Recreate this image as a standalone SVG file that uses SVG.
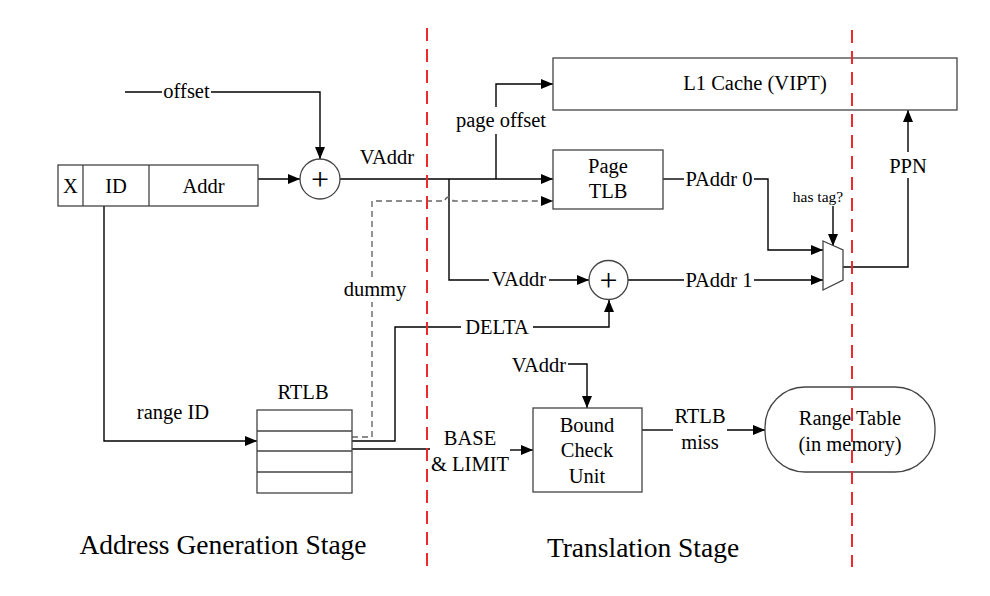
<svg xmlns="http://www.w3.org/2000/svg" width="990" height="596" viewBox="0 0 990 596">
<style>
.t{font-family:"Liberation Serif","Times New Roman",serif;font-size:20.5px;fill:#000;text-anchor:middle}
.s{font-size:15.5px}
.big{font-size:27.5px}
.plus{font-size:32px}
.box{fill:#fff;stroke:#444;stroke-width:1.3}
.ln{fill:none;stroke:#000;stroke-width:1.4}
.dash{fill:none;stroke:#666;stroke-width:1.4;stroke-dasharray:6 4}
.red{fill:none;stroke:#ee2a2a;stroke-width:2;stroke-dasharray:13 8}
</style>
<defs>
<marker id="arr" viewBox="0 0 12 10" refX="12" refY="5" markerWidth="12" markerHeight="10" markerUnits="userSpaceOnUse" orient="auto"><path d="M0,0 L12,5 L0,10 z" fill="#000"/></marker>
</defs>
<rect width="990" height="596" fill="#fff"/>

<g id="connectors">
  <path class="ln" d="M125,92 H162"/>
  <path class="ln" d="M211,92 H320 V159" marker-end="url(#arr)"/>
  <path class="ln" d="M258,179 H300" marker-end="url(#arr)"/>
  <path class="ln" d="M340,179 H553" marker-end="url(#arr)"/>
  <path class="ln" d="M496,179 V134"/>
  <path class="ln" d="M496,107 V84 H553" marker-end="url(#arr)"/>
  <path class="ln" d="M449,179 V280 H489"/>
  <path class="ln" d="M549,280 H589" marker-end="url(#arr)"/>
  <path class="ln" d="M663,179 H684"/>
  <path class="ln" d="M754,179 H768 V250 H823" marker-end="url(#arr)"/>
  <path class="ln" d="M628,280 H684"/>
  <path class="ln" d="M754,280 H823" marker-end="url(#arr)"/>
  <path class="ln" d="M833,206 V246" marker-end="url(#arr)"/>
  <path class="ln" d="M843,267 H908 V178"/>
  <path class="ln" d="M908,152 V110" marker-end="url(#arr)"/>
  <path class="ln" d="M104,206 V441 H257" marker-end="url(#arr)"/>
  <path class="ln" d="M352,441 H395 V327 H461"/>
  <path class="ln" d="M533,327 H609 V300" marker-end="url(#arr)"/>
  <path class="dash" d="M352,437 H372 V302"/>
  <path class="dash" d="M372,277 V201 H445 A4,4 0 0 1 453,201 H553" marker-end="url(#arr)"/>
  <path class="ln" d="M352,449 H430"/>
  <path class="ln" d="M510,450 H533" marker-end="url(#arr)"/>
  <path class="ln" d="M568,364 H587 V408" marker-end="url(#arr)"/>
  <path class="ln" d="M642,430 H673"/>
  <path class="ln" d="M727,430 H765" marker-end="url(#arr)"/>
</g>

<g id="addr-reg">
  <rect class="box" x="58" y="165" width="200" height="41"/>
  <path class="box" d="M83,165 V206 M149,165 V206"/>
  <text class="t" x="70.5" y="193">X</text>
  <text class="t" x="116" y="193">ID</text>
  <text class="t" x="203.5" y="193">Addr</text>
</g>

<g id="adder1">
  <circle class="box" cx="320" cy="179" r="20"/>
  <text class="t plus" x="320" y="190">+</text>
</g>

<g id="adder2">
  <circle class="box" cx="608.5" cy="280" r="19.5"/>
  <text class="t plus" x="608.5" y="291">+</text>
</g>

<g id="l1cache">
  <rect class="box" x="553" y="58" width="404" height="52"/>
  <text class="t" x="755" y="90">L1 Cache (VIPT)</text>
</g>

<g id="pagetlb">
  <rect class="box" x="553" y="150" width="110" height="59"/>
  <text class="t" x="608" y="173">Page</text>
  <text class="t" x="608" y="198">TLB</text>
</g>

<g id="mux">
  <polygon class="box" points="823,241 843,250 843,280 823,290"/>
</g>

<g id="rtlb">
  <rect class="box" x="257" y="410" width="95" height="83"/>
  <path class="box" d="M257,431 H352 M257,451 H352 M257,472 H352"/>
  <text class="t" x="303" y="399">RTLB</text>
</g>

<g id="boundcheck">
  <rect class="box" x="533" y="408" width="109" height="84"/>
  <text class="t" x="587" y="432">Bound</text>
  <text class="t" x="587" y="457">Check</text>
  <text class="t" x="587" y="483">Unit</text>
</g>

<g id="rangetable">
  <rect class="box" x="765" y="387" width="170" height="85" rx="40" ry="40"/>
  <text class="t" x="850" y="425">Range Table</text>
  <text class="t" x="850" y="451">(in memory)</text>
</g>

<g id="labels">
  <text class="t" x="186.5" y="98">offset</text>
  <text class="t" x="387" y="164">VAddr</text>
  <text class="t" x="501" y="127">page offset</text>
  <text class="t" x="519" y="286">VAddr</text>
  <text class="t" x="719" y="186">PAddr 0</text>
  <text class="t" x="719" y="287">PAddr 1</text>
  <text class="t s" x="818" y="202">has tag?</text>
  <text class="t" x="908" y="173">PPN</text>
  <text class="t" x="375" y="296">dummy</text>
  <text class="t" x="497" y="334">DELTA</text>
  <text class="t" x="173" y="419">range ID</text>
  <text class="t" x="470" y="445">BASE</text>
  <text class="t" x="470" y="471">&amp; LIMIT</text>
  <text class="t" x="539" y="372">VAddr</text>
  <text class="t" x="700" y="423">RTLB</text>
  <text class="t" x="700" y="449">miss</text>
  <text class="t big" x="223" y="554">Address Generation Stage</text>
  <text class="t big" x="643" y="557">Translation Stage</text>
</g>

<g id="stage-dividers">
  <path class="red" d="M427,28 V567"/>
  <path class="red" d="M852,30 V567"/>
</g>
</svg>
